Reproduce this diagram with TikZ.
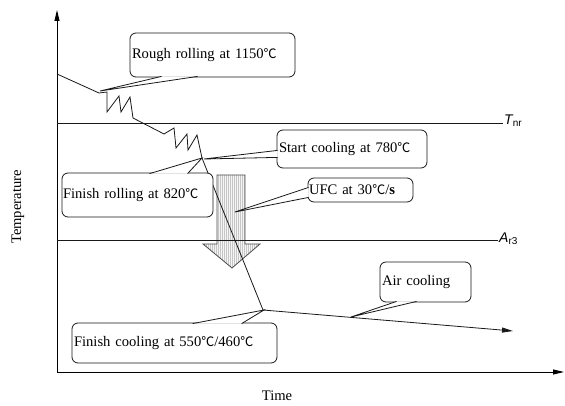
\documentclass[tikz,border=0pt]{standalone}
\usepackage{fontspec}
\setmainfont{Liberation Serif}
\newfontfamily\lsans{Liberation Sans}
\newfontfamily\cjkf{Noto Sans CJK SC}
\usetikzlibrary{arrows.meta,calc}
\newcommand\dC{{\cjkf\fontsize{13}{13}\selectfont ℃}}
\newcommand\fsz{\fontsize{14.6}{18}\selectfont}
\newcommand\callwedge[3]{\fill[white] (#1) -- (#3) -- (#2) -- cycle; \draw[ln] (#1) -- (#3) -- (#2);}
\begin{document}
\begin{tikzpicture}[x=1pt,y=-1pt,
  ln/.style={line width=0.8pt,draw=black!90},
  box/.style={draw=black!90,line width=0.8pt,rounded corners=6pt,fill=white,inner xsep=2pt,inner ysep=0pt,align=left,font=\fsz},
  lbl/.style={font=\fsz,inner sep=0pt},
  tip/.style={-{Triangle[length=11pt,width=5pt]}}]
\useasboundingbox (0,0) rectangle (565,406);
\fill[white] (0,0) rectangle (565,406);

% big UFC arrow
\begin{scope}
\clip (217,175) -- (245,175) -- (245,244) -- (260,244) -- (232,268) -- (203,244) -- (217,244) -- cycle;
\fill[gray!8] (200,170) rectangle (265,270);
\foreach \x in {204,206,...,260} \draw[gray!45,line width=0.3pt] (\x,170) -- (\x,270);
\end{scope}
\draw[line width=0.8pt,draw=black!70] (217,175) -- (245,175) -- (245,244) -- (260,244) -- (232,268) -- (203,244) -- (217,244) -- cycle;

% axes
\coordinate (O) at (57,372);
\coordinate (ytop) at (57,10);
\coordinate (xend) at (564,372);
\draw[line width=1pt,tip] (O) -- (ytop);
\draw[line width=1pt,tip] (O) -- (xend);
\node[lbl,rotate=90] (temp) at (18,207) {Temperature};
\node[lbl] (time) at (277,396) {Time};

% reference lines
\coordinate (tnrL) at (57,123);
\coordinate (tnrR) at (503,123);
\coordinate (arL) at (57,240);
\coordinate (arR) at (498,240);
\draw[ln] (tnrL) -- (tnrR);
\draw[ln] (arL) -- (arR);
\node[anchor=west,inner sep=0pt] (tnr) at (504,121) {\lsans\fontsize{14}{14}\selectfont\itshape T\raisebox{-2pt}{\upshape\fontsize{10}{10}\selectfont nr}};
\node[anchor=west,inner sep=0pt] (ar3) at (499,239) {\lsans\fontsize{14}{14}\selectfont\itshape A\raisebox{-2pt}{\upshape\fontsize{10}{10}\selectfont r3}};

% process curve
\coordinate (c0) at (57,74);
\coordinate (peak) at (202,158);
\coordinate (fc) at (263,310);
\coordinate (cend) at (513,331);
\draw[ln,line join=miter] (c0) -- (99,93) -- (107,92) -- (107,112) -- (119,96) -- (121,112) -- (130,97) -- (133,118)
  -- (164,134) -- (174,128) -- (176,148) -- (187,134) -- (188,150) -- (197,135) -- (peak) -- (fc);
\draw[ln,tip] (fc) -- (cend);

% callouts
\node[box,minimum width=165pt,minimum height=44pt,text width=161pt] (rough) at (212.5,55) {Rough rolling at 1150\dC};
\node[box,minimum width=150pt,minimum height=38pt,text width=146pt] (startc) at (352,149) {Start cooling at 780\dC};
\node[box,minimum width=105pt,minimum height=24pt,text width=103pt,inner xsep=1pt] (ufc) at (360.5,190) {UFC at 30\dC/\textbf{s}};
\node[box,minimum width=151pt,minimum height=44pt,text width=149pt,inner xsep=1pt] (frl) at (137.5,195) {Finish rolling at 820\dC};
\node[box,minimum width=91pt,minimum height=40pt,text width=87pt] (air) at (425.5,282) {Air cooling};
\node[box,minimum width=205pt,minimum height=40pt,text width=201pt] (fcl) at (174.5,343) {Finish cooling at 550\dC/460\dC};

\coordinate (tRough) at (100,91);
\coordinate (tStart) at (204,159);
\coordinate (tUfc) at (235,212);
\coordinate (tFrl) at (202,158);
\coordinate (tAir) at (351,317);
\coordinate (tFcl) at (264,310);

\callwedge{$(rough.south west)+(32,-1)$}{$(rough.south west)+(68,-1)$}{tRough}
\callwedge{$(startc.south west)+(1,-18)$}{$(startc.south west)+(1,-11)$}{tStart}
\callwedge{$(ufc.south west)+(1,-15)$}{$(ufc.south west)+(1,-5)$}{tUfc}
\callwedge{$(frl.north west)+(88,1)$}{$(frl.north west)+(126,1)$}{tFrl}
\callwedge{$(air.south west)+(17,-1)$}{$(air.south west)+(37,-1)$}{tAir}
\callwedge{$(fcl.north west)+(121,1)$}{$(fcl.north west)+(170,1)$}{tFcl}
\end{tikzpicture}
\end{document}
